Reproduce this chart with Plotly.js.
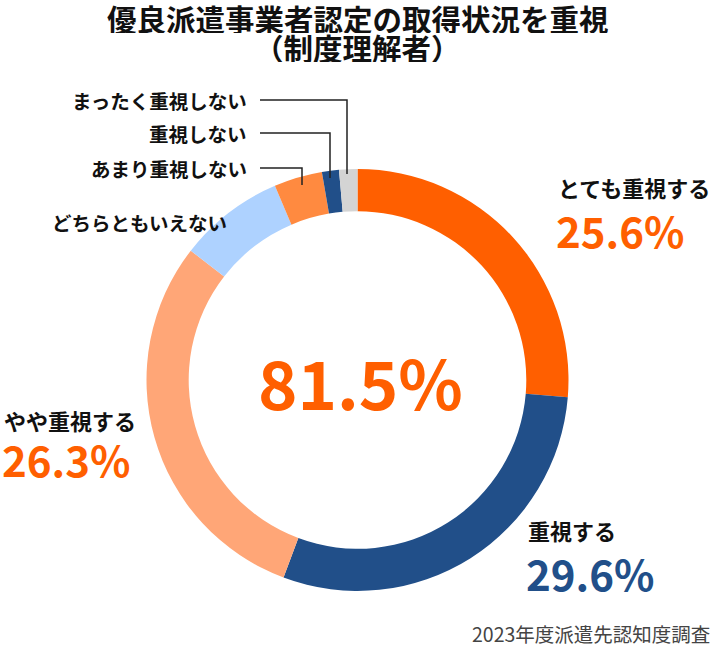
<!DOCTYPE html>
<html>
<head>
<meta charset="utf-8">
<script src="https://cdn.plot.ly/plotly-3.0.1.min.js"></script>
<style>html,body{margin:0;padding:0;background:#fff;}#chart{width:714px;height:648px;}</style>
</head>
<body>
<div id="chart"></div>
<script>
const categories = ["とても重視する", "重視する", "やや重視する", "どちらともいえない", "あまり重視しない", "重視しない", "まったく重視しない"];
// slice sizes as drawn in the reference ring
const sliceValues = [26.3, 29.4, 29.8, 8.1, 3.7, 1.3, 1.4];
// percentages printed next to the three main categories
const labelPercents = ["25.6%", "29.6%", "26.3%"];
const totalImportant = "81.5%";
const titleLines = ["優良派遣事業者認定の取得状況を重視", "（制度理解者）"];
const sourceText = "2023年度派遣先認知度調査";

const colors = ["#FF5F00", "#214F89", "#FFA677", "#AED2FF", "#FF8A40", "#214F89", "#D4D4D4"];
const W = 714, H = 648;
const cx = 357.5, cy = 380, R = 211;
const px = x => x / W;
const py = y => 1 - y / H;
const JP = "Noto Sans CJK JP, Noto Sans, sans-serif";

const trace = {
  type: "pie",
  labels: categories,
  values: sliceValues,
  sort: false,
  direction: "clockwise",
  rotation: 0,
  hole: 0.8,
  textinfo: "none",
  hoverinfo: "label+value",
  marker: {colors: colors, line: {width: 0}},
  domain: {x: [px(cx - R), px(cx + R)], y: [py(cy + R), py(cy - R)]},
  showlegend: false
};

const ann = [];
function addText(text, x, y, size, color, anchor, weight, h) {
  const a = {text: text, xref: "paper", yref: "paper", x: px(x), y: py(y),
    xanchor: anchor, yanchor: "middle", showarrow: false, valign: "middle",
    font: {family: JP, size: size, color: color, weight: weight}};
  if (h) a.height = h;
  ann.push(a);
}
addText(titleLines[0], 357.5, 18, 29.5, "#111", "center", 700, 30);
addText(titleLines[1], 357.5, 47, 29.5, "#111", "center", 700, 30);

// main labels
addText(categories[0], 556, 187, 22, "#111", "left", 700, 28);
addText(labelPercents[0], 554, 229, 42, "#FF5F00", "left", 700, 40);
addText(categories[1], 526, 530, 22, "#111", "left", 700, 28);
addText(labelPercents[1], 524, 572, 42, "#214F89", "left", 700, 40);
addText(categories[2], 2, 420, 22, "#111", "left", 700, 28);
addText(labelPercents[2], 0, 458, 42, "#FF5F00", "left", 700, 40);
// small labels
addText(categories[3], 229, 223, 19.5, "#111", "right", 700);
addText(categories[4], 249, 168, 19.5, "#111", "right", 700);
addText(categories[5], 249, 133, 19.5, "#111", "right", 700);
addText(categories[6], 249, 100, 19.5, "#111", "right", 700);
// center total
addText(totalImportant, 360, 380, 67, "#FF5F00", "center", 700);
// source
addText(sourceText, 712, 633, 19.5, "#444", "right", 400);

const shapes = [];
function leader(y, xEnd, yEnd) {
  shapes.push({type: "path", xref: "paper", yref: "paper",
    path: `M ${px(260)} ${py(y)} L ${px(xEnd)} ${py(y)} L ${px(xEnd)} ${py(yEnd)}`,
    line: {color: "#222", width: 1.5}});
}
leader(100, 347, 174);
leader(133, 330, 178);
leader(168, 302, 185);

Plotly.newPlot("chart", [trace], {
  width: W, height: H,
  margin: {l: 0, r: 0, t: 0, b: 0},
  paper_bgcolor: "#fff",
  annotations: ann,
  shapes: shapes
}, {displayModeBar: false, staticPlot: true});
</script>
</body>
</html>
